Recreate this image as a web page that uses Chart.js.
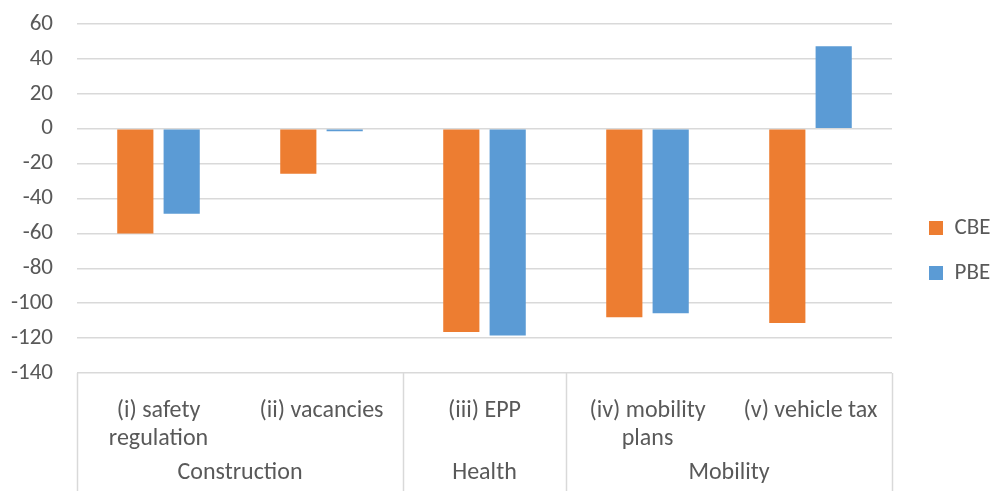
<!DOCTYPE html>
<html>
<head>
<meta charset="utf-8">
<script src="https://cdn.jsdelivr.net/npm/chart.js@4/dist/chart.umd.min.js"></script>
<style>
  html, body { margin: 0; padding: 0; background: #fff; }
  #wrap { width: 990px; height: 491px; }
</style>
</head>
<body>
<div id="wrap"><canvas id="chart" width="990" height="491"></canvas></div>
<script>
// --- data ---
const categories = [['(i) safety', 'regulation'], '(ii) vacancies', '(iii) EPP', ['(iv) mobility', 'plans'], '(v) vehicle tax'];
const groups = ['Construction', 'Health', 'Mobility'];
const groupSizes = [2, 1, 2];
const cbeValues = [-60, -25.8, -116.5, -108, -111.4];
const pbeValues = [-48.7, -1.4, -118.5, -105.7, 47.3];
const yTicks = { min: -140, max: 60, step: 20 };

const FONT = 'Calibri, Carlito, Lato, sans-serif';
const TEXT = '#595959';
const GRID = '#d9d9d9';

// second level of the category axis (group names + separators)
const groupAxis = {
  id: 'groupAxis',
  afterDraw(chart) {
    const x = chart.scales.x;
    const area = chart.chartArea;
    const ctx = chart.ctx;
    const half = (x.getPixelForValue(1) - x.getPixelForValue(0)) / 2;
    const edges = [x.getPixelForValue(0) - half];
    ctx.save();
    ctx.fillStyle = TEXT;
    ctx.font = '24px ' + FONT;
    ctx.textAlign = 'center';
    ctx.textBaseline = 'middle';
    let start = 0;
    groups.forEach((g, i) => {
      const end = start + groupSizes[i] - 1;
      const left = x.getPixelForValue(start) - half;
      const right = x.getPixelForValue(end) + half;
      edges.push(right);
      ctx.fillText(g, (left + right) / 2, area.bottom + 100);
      start += groupSizes[i];
    });
    ctx.strokeStyle = GRID;
    ctx.lineWidth = 1.5;
    edges.forEach(e => {
      ctx.beginPath();
      ctx.moveTo(Math.round(e) + 0.5, area.bottom);
      ctx.lineTo(Math.round(e) + 0.5, chart.height);
      ctx.stroke();
    });
    ctx.restore();
  }
};

const ctx = document.getElementById('chart').getContext('2d');
new Chart(ctx, {
  type: 'bar',
  data: {
    labels: categories,
    datasets: [
      { label: 'CBE', data: cbeValues, backgroundColor: '#ED7D31' },
      { label: 'PBE', data: pbeValues, backgroundColor: '#5B9BD5' }
    ]
  },
  options: {
    responsive: false,
    animation: false,
    devicePixelRatio: 1,
    categoryPercentage: 0.569,
    barPercentage: 0.78,
    layout: { padding: { top: 24, right: 0, bottom: 14, left: 0 } },
    plugins: {
      tooltip: { enabled: false },
      legend: {
        position: 'right',
        maxWidth: 83,
        labels: {
          boxWidth: 14,
          boxHeight: 14,
          padding: 22,
          color: TEXT,
          font: { family: FONT, size: 23 }
        }
      }
    },
    scales: {
      x: {
        grid: { display: false },
        border: { display: false },
        ticks: {
          color: TEXT,
          padding: 16,
          maxRotation: 0,
          autoSkip: false,
          font: { family: FONT, size: 24, lineHeight: 1.18 }
        },
        afterFit(s) { s.height = 104; }
      },
      y: {
        min: yTicks.min,
        max: yTicks.max,
        grid: { color: GRID, lineWidth: 1.5, drawTicks: false },
        border: { display: false },
        ticks: {
          stepSize: yTicks.step,
          color: TEXT,
          padding: 24,
          font: { family: FONT, size: 23 }
        },
        afterFit(s) {
          s.width = 77;
          s.paddingTop = 0;
          s.paddingBottom = 0;
        }
      },
      gap: {
        type: 'linear',
        position: 'right',
        display: true,
        grid: { display: false },
        border: { display: false },
        ticks: { display: false },
        afterFit(s) { s.width = 15; }
      }
    }
  },
  plugins: [groupAxis]
});
</script>
</body>
</html>
